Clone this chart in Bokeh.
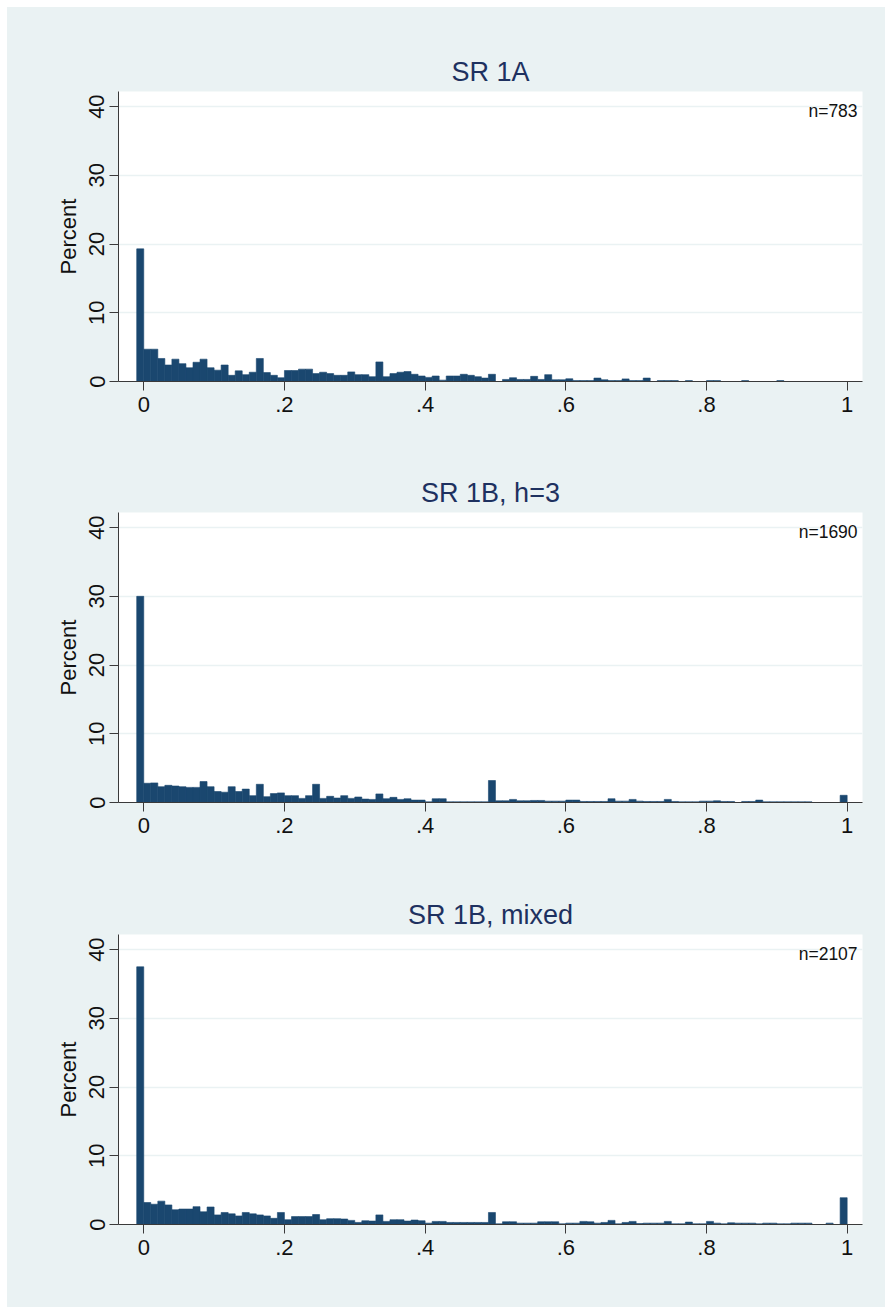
from bokeh.plotting import figure
from bokeh.layouts import column
from bokeh.models import FixedTicker, Label, Range1d
from bokeh.embed import file_html
from bokeh.resources import INLINE

# ---- data ----
bin_start = -0.01
bin_width = 0.01
x_ticks = [0, 0.2, 0.4, 0.6, 0.8, 1.0]
x_tick_labels = ["0", ".2", ".4", ".6", ".8", "1"]
y_ticks = [0, 10, 20, 30, 40]
titles = ["SR 1A", "SR 1B, h=3", "SR 1B, mixed"]
n_labels = ["n=783", "n=1690", "n=2107"]

pct_sr1a = [19.3, 4.7, 4.7, 3.35, 2.4, 3.25, 2.6, 2.0, 2.8, 3.25,
            2.0, 1.65, 2.4, 0.9, 1.55, 1.0, 1.35, 3.35, 1.3, 0.9,
            0.55, 1.6, 1.6, 1.8, 1.8, 1.15, 1.35, 1.15, 0.9, 0.9,
            1.4, 1.0, 1.0, 0.7, 2.85, 0.7, 1.15, 1.35, 1.45, 1.05,
            0.8, 0.6, 0.8, 0.2, 0.8, 0.8, 1.05, 0.9, 0.7, 0.5,
            1.05, 0.0, 0.3, 0.55, 0.3, 0.3, 0.75, 0.3, 1.0, 0.25,
            0.25, 0.4, 0.13, 0.13, 0.13, 0.5, 0.25, 0.13, 0.13, 0.38,
            0.13, 0.13, 0.5, 0.0, 0.13, 0.13, 0.13, 0.0, 0.13, 0.0,
            0.0, 0.13, 0.13, 0.0, 0.0, 0.0, 0.13, 0.0, 0.0, 0.0,
            0.0, 0.13, 0.0, 0.0, 0.0, 0.0, 0.0, 0.0, 0.0, 0.0,
            0.0]

pct_sr1b_h3 = [30.0, 2.8, 2.85, 2.3, 2.5, 2.4, 2.3, 2.2, 2.2, 3.05,
               2.3, 1.6, 1.5, 2.3, 1.6, 1.95, 1.0, 2.65, 0.85, 1.3,
               1.4, 1.0, 1.0, 0.6, 1.0, 2.65, 0.6, 0.9, 0.65, 1.0,
               0.6, 0.8, 0.5, 0.45, 1.25, 0.55, 0.75, 0.45, 0.55, 0.35,
               0.35, 0.1, 0.55, 0.55, 0.1, 0.1, 0.1, 0.1, 0.1, 0.1,
               3.2, 0.25, 0.25, 0.45, 0.25, 0.25, 0.3, 0.3, 0.2, 0.2,
               0.2, 0.35, 0.35, 0.15, 0.15, 0.15, 0.15, 0.55, 0.2, 0.2,
               0.45, 0.2, 0.15, 0.15, 0.15, 0.45, 0.15, 0.1, 0.1, 0.1,
               0.2, 0.2, 0.25, 0.15, 0.15, 0.0, 0.15, 0.15, 0.35, 0.1,
               0.1, 0.1, 0.1, 0.1, 0.1, 0.1, 0.0, 0.0, 0.0, 0.0,
               1.05]

pct_sr1b_mixed = [37.5, 3.2, 2.95, 3.4, 2.85, 2.15, 2.25, 2.25, 2.6, 1.85,
                  2.55, 1.4, 1.75, 1.55, 1.25, 1.75, 1.55, 1.4, 1.25, 0.9,
                  1.75, 0.7, 1.15, 1.15, 1.15, 1.45, 0.7, 0.85, 0.85, 0.8,
                  0.6, 0.3, 0.55, 0.5, 1.4, 0.45, 0.7, 0.7, 0.5, 0.65,
                  0.55, 0.2, 0.45, 0.45, 0.3, 0.3, 0.3, 0.3, 0.3, 0.3,
                  1.75, 0.1, 0.4, 0.4, 0.2, 0.2, 0.2, 0.4, 0.4, 0.4,
                  0.1, 0.2, 0.2, 0.45, 0.4, 0.2, 0.3, 0.6, 0.1, 0.3,
                  0.45, 0.15, 0.2, 0.2, 0.2, 0.45, 0.1, 0.1, 0.35, 0.1,
                  0.1, 0.45, 0.2, 0.1, 0.25, 0.2, 0.2, 0.2, 0.1, 0.2,
                  0.2, 0.1, 0.1, 0.2, 0.2, 0.2, 0.0, 0.0, 0.2, 0.0,
                  3.9]

panels = [pct_sr1a, pct_sr1b_h3, pct_sr1b_mixed]

# ---- styling ----
BG = "#EAF2F3"
BAR = "#1A476F"
AXIS = "#3a3a3a"
TITLE_COLOR = "#1e3160"
FONT = "Liberation Sans"
X_MIN, X_MAX = -0.0359, 1.0218
Y_MIN, Y_MAX = 0, 42.2

heights = [421, 422, 457]
top_borders = [84, 84, 84]
bottom_borders = [47, 48, 83]


def make_panel(title, pct, ntext, height, top_b, bot_b):
    p = figure(width=878, height=height, output_backend="svg", toolbar_location=None,
               x_range=Range1d(X_MIN, X_MAX), y_range=Range1d(Y_MIN, Y_MAX),
               min_border_left=111, min_border_right=23,
               min_border_top=top_b, min_border_bottom=bot_b)
    p.background_fill_color = "white"
    p.border_fill_color = BG
    p.outline_line_color = None
    p.styles = {"background-color": BG}

    p.title.text = title
    p.title.align = "center"
    p.title.text_font = FONT
    p.title.text_font_size = "27px"
    p.title.text_font_style = "normal"
    p.title.text_color = TITLE_COLOR

    left = [bin_start + i * bin_width for i in range(len(pct))]
    right = [l + bin_width for l in left]
    p.quad(left=left, right=right, top=pct, bottom=0,
           fill_color=BAR, line_color=BAR, line_width=0.6)

    p.xgrid.visible = False
    p.ygrid.ticker = FixedTicker(ticks=y_ticks)
    p.ygrid.grid_line_color = BG
    p.ygrid.grid_line_width = 1.5

    p.xaxis.ticker = FixedTicker(ticks=x_ticks)
    p.xaxis.major_label_overrides = {t: s for t, s in zip(x_ticks, x_tick_labels)}
    p.yaxis.ticker = FixedTicker(ticks=y_ticks)
    p.yaxis.major_label_orientation = "vertical"
    p.yaxis.axis_label = "Percent"

    for ax in (p.xaxis, p.yaxis):
        ax.axis_line_color = AXIS
        ax.axis_line_width = 1
        ax.major_tick_line_color = AXIS
        ax.major_tick_line_width = 1
        ax.major_tick_out = 9
        ax.major_tick_in = 0
        ax.minor_tick_line_color = None
        ax.major_label_text_font = FONT
        ax.major_label_text_font_size = "22px"
        ax.major_label_text_color = "#111111"
        ax.axis_label_text_font = FONT
        ax.axis_label_text_font_size = "22px"
        ax.axis_label_text_font_style = "normal"
        ax.axis_label_text_color = "#111111"
    p.xaxis.major_label_standoff = 6
    p.yaxis.major_label_standoff = 5
    p.yaxis.axis_label_standoff = 6

    p.add_layout(Label(x=X_MAX - 0.007, y=Y_MAX - 2.87, text=ntext,
                       text_align="right", text_baseline="alphabetic",
                       text_font=FONT, text_font_size="17.5px", text_color="#111111"))
    return p


figs = [make_panel(titles[i], panels[i], n_labels[i], heights[i],
                   top_borders[i], bottom_borders[i]) for i in range(3)]
layout = column(*figs, spacing=0, margin=(7, 0, 0, 7),
                styles={"background-color": BG})

open("out.html", "w").write(file_html(layout, INLINE))
